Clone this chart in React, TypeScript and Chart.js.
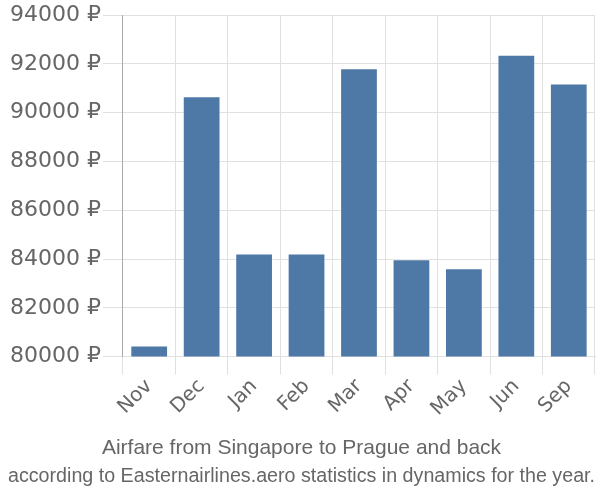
import React, { useEffect, useRef } from "react";
import { Chart, registerables } from "chart.js";

Chart.register(...registerables);

const categories = ["Nov", "Dec", "Jan", "Feb", "Mar", "Apr", "May", "Jun", "Sep"];
const prices = [80450, 90680, 84230, 84230, 91820, 83990, 83620, 92380, 91200];
const titleText = "Airfare from Singapore to Prague and back";
const subtitleText = "according to Easternairlines.aero statistics in dynamics for the year.";

const FONT = "Liberation Sans, Arial, sans-serif";
const TICK_FONT = "DejaVu Sans, sans-serif";

export default function App() {
  const ref = useRef<HTMLCanvasElement | null>(null);
  useEffect(() => {
    if (!ref.current) return;
    const chart = new Chart(ref.current, {
      type: "bar",
      data: {
        labels: categories,
        datasets: [
          {
            data: prices,
            backgroundColor: "#4e79a7",
            borderColor: "rgba(255,255,255,0.5)",
            borderWidth: 1,
          },
        ],
      },
      options: {
        animation: false,
        responsive: false,
        maintainAspectRatio: false,
        layout: { padding: { left: 8, right: 5, top: 4, bottom: 0 } },
        plugins: {
          legend: { display: false },
          tooltip: { enabled: false },
          // placed bottom-most
          title: {
            display: true,
            text: subtitleText,
            position: "bottom",
            color: "#666",
            font: { family: FONT, size: 20, weight: "normal" },
            padding: { top: 3, bottom: 12 },
          },
          subtitle: {
            display: true,
            text: titleText,
            position: "bottom",
            color: "#666",
            font: { family: FONT, size: 21, weight: "normal" },
            padding: { top: 15, bottom: 0 },
          },
        },
        scales: {
          x: {
            grid: { color: "#e0e0e0", lineWidth: 1, drawTicks: true, tickLength: 18, offset: true },
            border: { color: "#e0e0e0" },
            ticks: {
              color: "#666",
              font: { family: TICK_FONT, size: 20 },
              maxRotation: 45,
              minRotation: 45,
              padding: 0,
            },
          },
          y: {
            min: 80000,
            max: 94000,
            grid: { color: "#e0e0e0", lineWidth: 1, tickLength: 20 },
            border: { color: "#aaa", width: 1 },
            ticks: {
              stepSize: 2000,
              color: "#666",
              font: { family: TICK_FONT, size: 22 },
              padding: 2,
              callback: (v: any) => `${v} ₽`,
            },
          },
        },
      },
    });
    return () => chart.destroy();
  }, []);
  return (
    <div style={{ position: "fixed", left: 0, top: 0, width: 600, height: 500 }}>
      <canvas ref={ref} width={600} height={500} style={{ display: "block" }} />
    </div>
  );
}
